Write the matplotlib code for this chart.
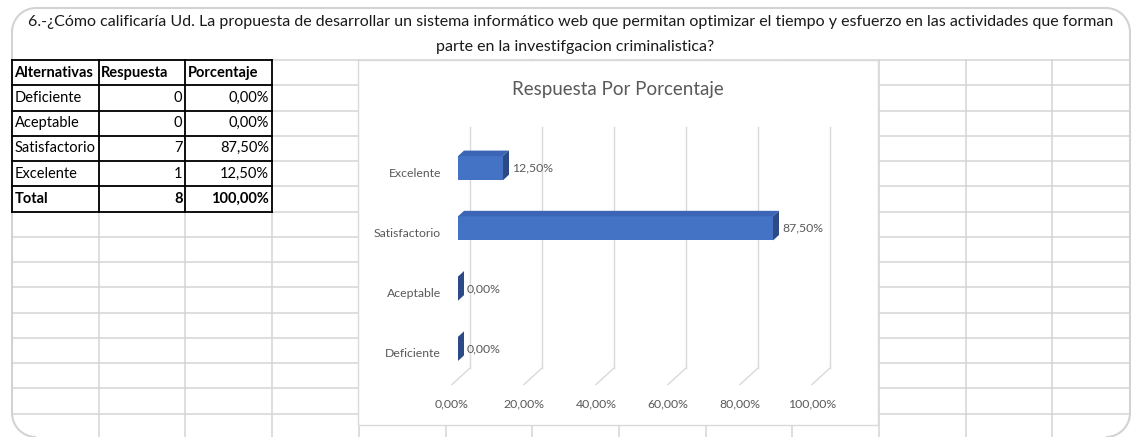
import matplotlib.pyplot as plt
from matplotlib.patches import Polygon, Rectangle, PathPatch, Arc
from matplotlib.path import Path

W, H = 1134, 437

pregunta = [
    "6.-¿Cómo calificaría Ud. La propuesta de desarrollar un sistema informático web que permitan "
    "optimizar el tiempo y esfuerzo en las actividades que forman",
    "parte en la investifgacion criminalistica?",
]
encabezados = ["Alternativas", "Respuesta", "Porcentaje"]
alternativas = ["Deficiente", "Aceptable", "Satisfactorio", "Excelente"]
respuestas = [0, 0, 7, 1]
porcentajes = [0.0, 0.0, 87.5, 12.5]
ticks_pct = [0, 20, 40, 60, 80, 100]
titulo_grafico = "Respuesta Por Porcentaje"

plt.rcParams["font.family"] = ["Lato", "DejaVu Sans"]

AZUL, AZUL_TAPA, AZUL_LADO = "#4472C4", "#3C66B5", "#2B4A86"
GRIS_TXT = "#595959"
GRIS_REJ = "#d9d9d9"
GRIS_HOJA = "#d4d4d4"
GRIS_MARCO = "#d3d3d3"


def fmt_pct(v):
    return f"{v:.2f}".replace(".", ",") + "%"


def rect_redondeado(x0, y0, x1, y1, r):
    verts = [(x0 + r, y0), (x1 - r, y0), (x1, y0), (x1, y0 + r),
             (x1, y1 - r), (x1, y1), (x1 - r, y1), (x0 + r, y1),
             (x0, y1), (x0, y1 - r), (x0, y0 + r), (x0, y0), (x0 + r, y0)]
    codes = [Path.MOVETO, Path.LINETO, Path.CURVE3, Path.CURVE3,
             Path.LINETO, Path.CURVE3, Path.CURVE3, Path.LINETO,
             Path.CURVE3, Path.CURVE3, Path.LINETO, Path.CURVE3, Path.CURVE3]
    return Path(verts, codes)


fig = plt.figure(figsize=(W / 100, H / 100), dpi=100)

# hoja de calculo de fondo, coordenadas en pixeles
hoja = fig.add_axes([0, 0, 1, 1])
hoja.set_xlim(0, W)
hoja.set_ylim(H, 0)
hoja.axis("off")

# marco redondeado de la captura
mx0, my0, mx1, my1, r = 12, 8, 1130, 437, 24
recorte = PathPatch(rect_redondeado(mx0, my0, mx1, my1, r), fc="none", ec="none")
hoja.add_patch(recorte)
hoja.plot([mx0 + r, mx1 - r], [my0, my0], color=GRIS_MARCO, lw=1.5)
hoja.plot([mx0, mx0], [my0 + r, my1 - r], color=GRIS_MARCO, lw=1.5)
hoja.plot([mx1, mx1], [my0 + r, my1 - r], color=GRIS_MARCO, lw=1.5)
for cx, cy, a1, a2 in [(mx0 + r, my0 + r, 180, 270), (mx1 - r, my0 + r, 270, 360),
                       (mx0 + r, my1 - r, 90, 180), (mx1 - r, my1 - r, 0, 90)]:
    hoja.add_patch(Arc((cx, cy), 2 * r, 2 * r, theta1=a1, theta2=a2, color=GRIS_MARCO, lw=1.5))

cols = [12 + 86.7 * i for i in range(14)]
filas = [60 + 25.25 * i for i in range(16)]
for x in cols:
    ln, = hoja.plot([x, x], [filas[0], H], color=GRIS_HOJA, lw=1.1)
    ln.set_clip_path(recorte)
for y in filas:
    ln, = hoja.plot([cols[0], W], [y, y], color=GRIS_HOJA, lw=1.1)
    ln.set_clip_path(recorte)

# titulo de la pregunta (celda combinada)
hoja.text(28, 22, pregunta[0], ha="left", va="center", fontsize=11.5, color="#1a1a1a")
hoja.text(575, 47, pregunta[1], ha="center", va="center", fontsize=11.5, color="#1a1a1a")

# tabla de resultados
tabla = [encabezados]
tabla += [[a, str(r), fmt_pct(p)] for a, r, p in zip(alternativas, respuestas, porcentajes)]
tabla += [["Total", str(sum(respuestas)), fmt_pct(sum(porcentajes))]]
for i, fila in enumerate(tabla):
    yc = (filas[i] + filas[i + 1]) / 2
    negrita = "bold" if i in (0, len(tabla) - 1) else "normal"
    for j, txt in enumerate(fila):
        if i == 0 or j == 0:
            hoja.text(cols[j] + 2.5, yc, txt, ha="left", va="center", fontsize=10.5,
                      fontweight=negrita, color="black")
        else:
            hoja.text(cols[j + 1] - 3, yc, txt, ha="right", va="center", fontsize=10.5,
                      fontweight=negrita, color="black")
for y in filas[:len(tabla) + 1]:
    hoja.plot([cols[0], cols[3]], [y, y], color="black", lw=1.3)
for x in cols[:4]:
    hoja.plot([x, x], [filas[0], filas[len(tabla)]], color="black", lw=1.3)

# area del grafico
hoja.add_patch(Rectangle((358, 60), 520, 365, fc="white", ec=GRIS_REJ, lw=1, zorder=3))
hoja.text(618, 90, titulo_grafico, ha="center", va="center", fontsize=13.5,
          color=GRIS_TXT, zorder=4)

x0, x1 = 458, 818
y_top, y_bot = 138, 379
ax = fig.add_axes([x0 / W, 1 - y_bot / H, (x1 - x0) / W, (y_bot - y_top) / H])
ax.set_xlim(0, 100)
ax.set_ylim(-0.5, 3.5)
ax.axis("off")

# tamano de un pixel en unidades de datos, para la profundidad 3D
ux = 100 / (x1 - x0)
uy = 4 / (y_bot - y_top)
ddx, ddy = 6 * ux, 5.5 * uy

for t in ticks_pct:
    ax.plot([t + 2 * ddx] * 2, [-0.5 + 2 * ddy, 3.5 + 2 * ddy], color=GRIS_REJ, lw=1, clip_on=False)
    ax.plot([t + 2 * ddx, t - ddx], [-0.5 + 2 * ddy, -0.5 - ddy], color=GRIS_REJ, lw=1, clip_on=False)
    ax.text(t - ddx, -0.5 - ddy - 19 * uy, fmt_pct(t), ha="center", va="center",
            fontsize=8.8, color=GRIS_TXT)

h = 0.4
ys = list(range(len(alternativas)))
ax.barh(ys, porcentajes, height=h, color=AZUL, zorder=3, clip_on=False)
for y, v in zip(ys, porcentajes):
    top, bot = y + h / 2, y - h / 2
    ax.add_patch(Polygon([(0, top), (v, top), (v + ddx, top + ddy), (ddx, top + ddy)],
                         fc=AZUL_TAPA, ec="none", zorder=3, clip_on=False))
    ax.add_patch(Polygon([(v, bot), (v, top), (v + ddx, top + ddy), (v + ddx, bot + ddy)],
                         fc=AZUL_LADO, ec="none", zorder=3, clip_on=False))
    ax.text(v + ddx + 3 * ux, y, fmt_pct(v), ha="left", va="center", fontsize=8.8,
            color=GRIS_TXT)
    ax.text(-17 * ux, y - 5 * uy, alternativas[y], ha="right", va="center", fontsize=8.8,
            color=GRIS_TXT)

fig.savefig("out.png", dpi=100)
